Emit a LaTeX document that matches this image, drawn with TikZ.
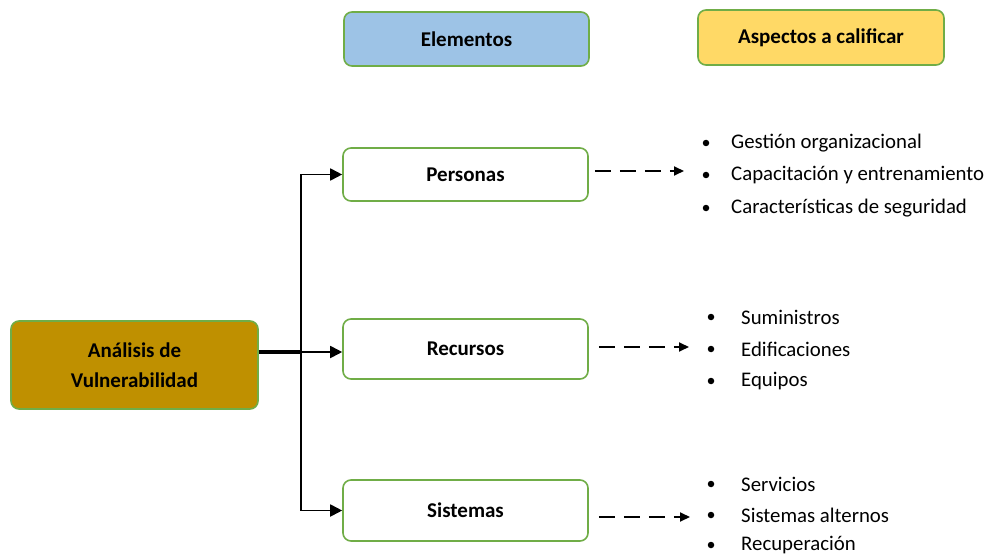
\documentclass[tikz,border=0pt]{standalone}
\usepackage{fontspec}
\setmainfont{Carlito}
\usetikzlibrary{arrows.meta}
\definecolor{boxgreen}{HTML}{70AD47}
\definecolor{gold}{HTML}{BF9000}
\definecolor{headblue}{HTML}{9DC3E6}
\definecolor{headyellow}{HTML}{FFD966}
\tikzset{
  box/.style={draw=boxgreen, line width=1.6pt, rounded corners=8pt, align=center,
    font=\fontsize{21}{30}\selectfont\bfseries, inner sep=0pt},
  link/.style={line width=1.8pt, -{Triangle[length=12pt,width=12pt]}},
  dlink/.style={line width=1.8pt, dash pattern=on 16pt off 9pt, -{Triangle[length=10pt,width=9pt]}},
  item/.style={anchor=west, font=\fontsize{20.8}{24}\selectfont, inner sep=0pt},
  dot/.style={circle, fill=black, inner sep=0pt, minimum size=6.5pt}
}
\begin{document}
\begin{tikzpicture}[x=1pt, y=-1pt]
\useasboundingbox (0,0) rectangle (987,556);
% header boxes
\node[box, fill=headblue, minimum width=245pt, minimum height=54pt] (elem) at (466.5,39) {Elementos};
\node[box, fill=headyellow, minimum width=246pt, minimum height=55pt] (asp) at (821,37.5) {Aspectos a calificar};
% main box and elements
\node[box, fill=gold, minimum width=247pt, minimum height=88pt] (av) at (134.5,365) {Análisis de\\Vulnerabilidad};
\node[box, minimum width=245pt, minimum height=53pt] (per) at (465.5,174.5) {Personas};
\node[box, minimum width=245pt, minimum height=60pt] (rec) at (465.5,349) {Recursos};
\node[box, minimum width=245pt, minimum height=61pt] (sis) at (465.5,510.5) {Sistemas};
% branching connectors
\coordinate (split) at (301,352);
\draw[line width=3.2pt] (av.east |- split) -- (split);
\draw[link] (split) -- (split -| rec.west);
\draw[link] (split) |- (per.west);
\draw[link] (split) |- (sis.west);
% dashed arrows to the lists
\coordinate (pl) at (684,171);
\coordinate (rl) at (689,347);
\coordinate (sl) at (690,517);
\draw[dlink] ([xshift=6pt]per.east |- pl) -- (pl);
\draw[dlink] ([xshift=10pt]rec.east |- rl) -- (rl);
\draw[dlink] ([xshift=10pt]sis.east |- sl) -- (sl);
% aspects of Personas
\node[dot] (p1) at (706,143) {};
\node[dot] (p2) at (706,175) {};
\node[dot] (p3) at (706,208) {};
\node[item] (pt1) at (731,143) {Gestión organizacional};
\node[item] (pt2) at (731,175) {Capacitación y entrenamiento};
\node[item] (pt3) at (731,208) {Características de seguridad};
% aspects of Recursos
\node[dot] (r1) at (711,317) {};
\node[dot] (r2) at (711,349) {};
\node[dot] (r3) at (711,381) {};
\node[item] (rt1) at (741,317) {Suministros};
\node[item] (rt2) at (741,349) {Edificaciones};
\node[item] (rt3) at (741,381) {Equipos};
% aspects of Sistemas
\node[dot] (s1) at (711,484) {};
\node[dot] (s2) at (711,515) {};
\node[dot] (s3) at (711,545) {};
\node[item] (st1) at (741,484) {Servicios};
\node[item] (st2) at (741,515) {Sistemas alternos};
\node[item] (st3) at (741,545) {Recuperación};
\end{tikzpicture}
\end{document}
